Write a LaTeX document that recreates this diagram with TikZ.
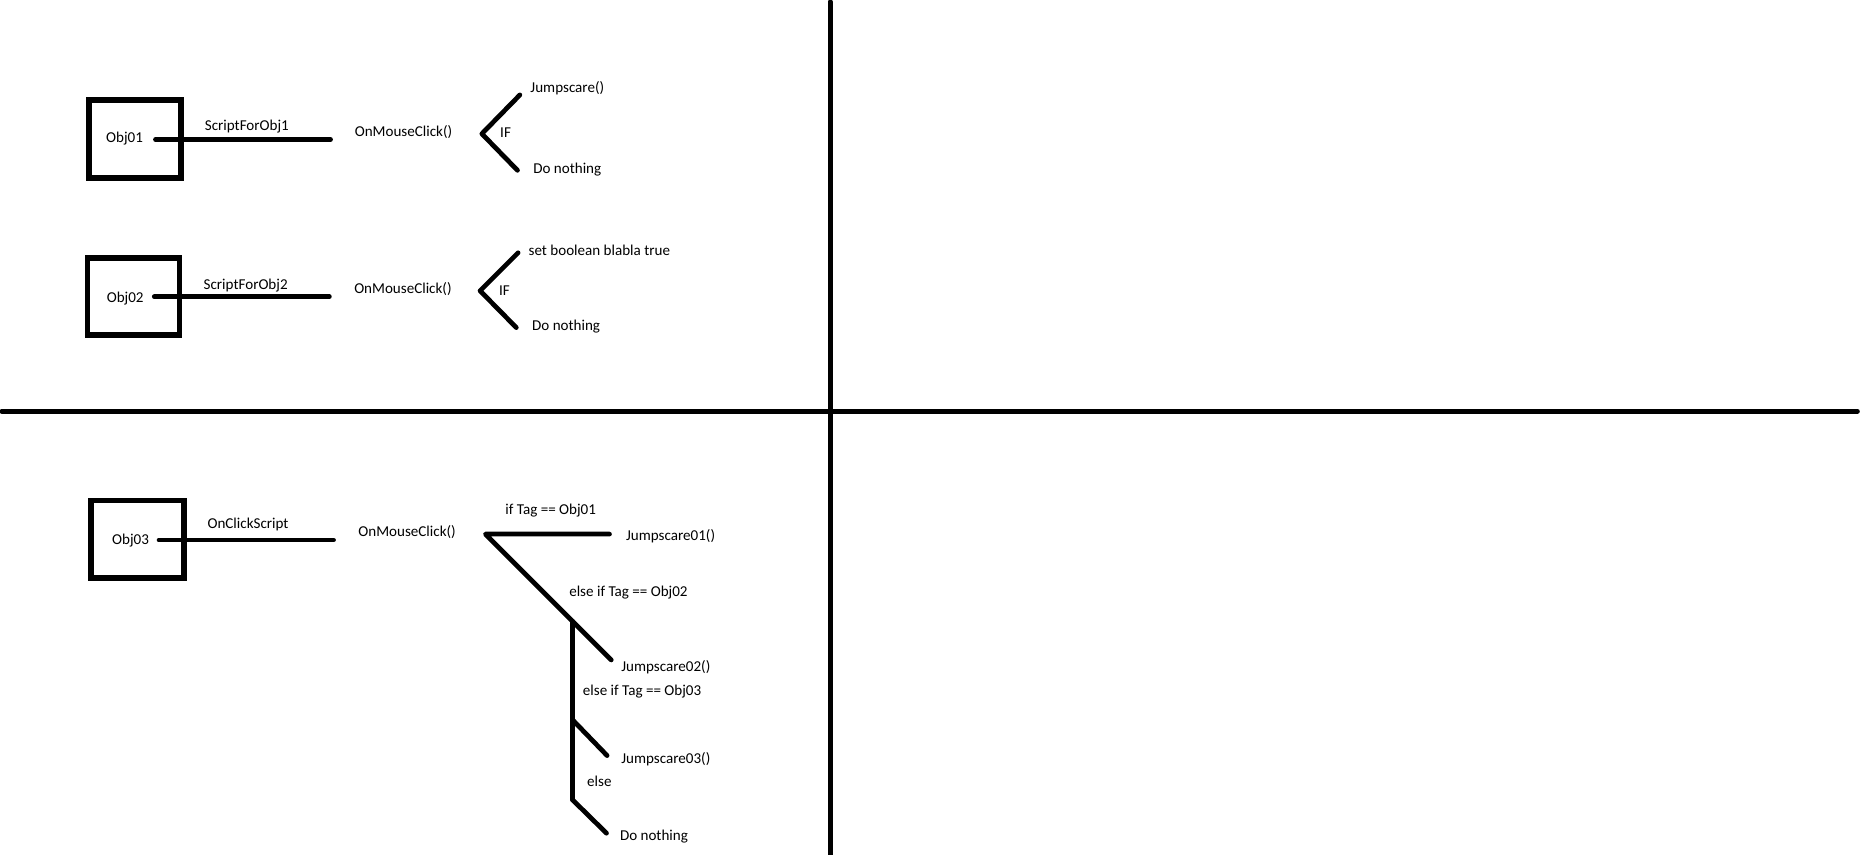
\documentclass[tikz,border=0pt]{standalone}
\usepackage{fontspec}
\setmainfont{Carlito}
\begin{document}
\begin{tikzpicture}[x=1pt,y=-1pt,
  lbl/.style={inner sep=0pt, yshift=-1.5pt, font=\fontsize{12.7}{15}\selectfont},
  objbox/.style={draw, line width=4.8pt, minimum width=78pt, minimum height=65.5pt, inner sep=0pt},
  wire/.style={line width=4pt, line cap=round, line join=round},
  divider/.style={line width=4pt, line cap=round}]
\useasboundingbox (0,0) rectangle (1568,719.6);
% dividers
\coordinate (vt) at (699.5,1.5); \coordinate (vb) at (699.5,722);
\coordinate (hl) at (1.5,346.5); \coordinate (hr) at (1565,346.5);
\draw[divider] (vt) -- (vb);
\draw[divider] (hl) -- (hr);

% block 1
\node[objbox] (box1) at (113.75,117) {};
\node[lbl] (obj1) at (105,115) {Obj01};
\coordinate (c1a) at (131,117.5); \coordinate (c1b) at (278.5,117.5);
\draw[wire] (c1a) -- (c1b);
\node[lbl] (s1) at (208,105) {ScriptForObj1};
\node[lbl] (m1) at (340,110) {OnMouseClick()};
\coordinate (v1) at (406,112.7); \coordinate (u1) at (438,80); \coordinate (d1) at (436,143.5);
\draw[wire] (u1) -- (v1) -- (d1);
\node[lbl] (if1) at (426,110) {IF};
\node[lbl] (j1) at (478,73) {Jumpscare()};
\node[lbl] (n1) at (478,141.5) {Do nothing};

% block 2
\node[objbox, minimum width=77.5pt, minimum height=65pt] (box2) at (112.5,249.75) {};
\node[lbl] (obj2) at (105.5,250) {Obj02};
\coordinate (c2a) at (130,250); \coordinate (c2b) at (277.5,250);
\draw[wire] (c2a) -- (c2b);
\node[lbl] (s2) at (207,239) {ScriptForObj2};
\node[lbl] (m2) at (339.5,242) {OnMouseClick()};
\coordinate (v2) at (404.5,245); \coordinate (u2) at (436.5,213); \coordinate (d2) at (435,276);
\draw[wire] (u2) -- (v2) -- (d2);
\node[lbl] (if2) at (425,243) {IF};
\node[lbl] (j2) at (505,209) {set boolean blabla true};
\node[lbl] (n2) at (477,274) {Do nothing};

% block 3
\node[objbox, minimum width=78.5pt] (box3) at (116,454.5) {};
\node[lbl] (obj3) at (110,454) {Obj03};
\coordinate (c3a) at (134,455); \coordinate (c3b) at (281,455);
\draw[wire] (c3a) -- (c3b);
\node[lbl] (s3) at (209,440) {OnClickScript};
\node[lbl] (m3) at (343,447) {OnMouseClick()};
\coordinate (v3) at (409,450); \coordinate (h3) at (513.5,450);
\coordinate (e3) at (515,556);
\coordinate (k1) at (482.5,523.5); \coordinate (k2) at (482.5,606.6); \coordinate (k3) at (482.5,674);
\coordinate (b2) at (511.5,636.6); \coordinate (b3) at (511,702);
\draw[wire] (h3) -- (v3) -- (e3);
\draw[wire] (k1) -- (k3);
\draw[wire] (k2) -- (b2);
\draw[wire] (k3) -- (b3);
\node[lbl] (t1) at (464,429) {if Tag == Obj01};
\node[lbl] (js1) at (565,450) {Jumpscare01()};
\node[lbl] (t2) at (529.5,497.6) {else if Tag == Obj02};
\node[lbl] (js2) at (561,561) {Jumpscare02()};
\node[lbl] (t3) at (541,581) {else if Tag == Obj03};
\node[lbl] (js3) at (561,638) {Jumpscare03()};
\node[lbl] (t4) at (505,657) {else};
\node[lbl] (n3) at (551,703.5) {Do nothing};
\end{tikzpicture}
\end{document}
